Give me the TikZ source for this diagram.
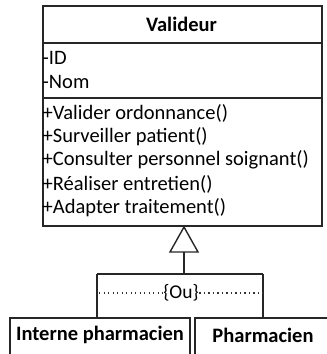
\documentclass[tikz,border=0pt]{standalone}
\usepackage{fontspec}
\setmainfont{Carlito}
\begin{document}
\begin{tikzpicture}[x=1pt,y=-1pt,
  frame/.style={draw=black!85, line width=1.5pt},
  txt/.style={inner sep=0pt, font=\fontsize{20.5}{24}\selectfont, anchor=west},
  ttl/.style={inner sep=0pt, font=\fontsize{20.5}{24}\selectfont\bfseries},
  lnk/.style={draw=black!85, line width=1.4pt},
  dots/.style={draw=black!80, line width=1.1pt, dash pattern=on 1.1pt off 3.4pt}]
\useasboundingbox (0,0) rectangle (327,354);
\clip (0,0) rectangle (327,354);
% class box
\node[frame, minimum width=279pt, minimum height=220pt, anchor=north west, inner sep=0pt] (cls) at (42,5) {};
\coordinate (d1l) at (42,43); \coordinate (d1r) at (321,43);
\coordinate (d2l) at (42,98); \coordinate (d2r) at (321,98);
\draw[frame] (d1l) -- (d1r);
\draw[frame] (d2l) -- (d2r);
\node[ttl] (title) at (181.5,24) {Valideur};
\node[txt] (a1) at (42.5,58) {-ID};
\node[txt] (a2) at (42.5,82) {-Nom};
\node[txt] (m1) at (42.5,113) {+Valider ordonnance()};
\node[txt] (m2) at (42.5,137) {+Surveiller patient()};
\node[txt] (m3) at (42.5,160) {+Consulter personnel soignant()};
\node[txt] (m4) at (42.5,184) {+Réaliser entretien()};
\node[txt] (m5) at (42.5,208) {+Adapter traitement()};
% generalisation
\coordinate (apex) at (184,227);
\coordinate (bl) at (170,252);
\coordinate (br) at (198,252);
\coordinate (base) at (184,252);
\coordinate (junc) at (184,274);
\coordinate (jl) at (97,274);
\coordinate (jr) at (263,274);
\draw[lnk, line join=miter] (apex) -- (bl) -- (br) -- cycle;
\draw[lnk] (base) -- (junc);
\draw[lnk] (jl) -- (jr);
% subclasses
\node[frame, minimum width=180pt, minimum height=37pt, anchor=north west, inner sep=0pt] (ip) at (9,317) {};
\node[frame, minimum width=140pt, minimum height=37pt, anchor=north west, inner sep=0pt] (ph) at (194,317) {};
\node[ttl] (ipt) at (100,335) {Interne pharmacien};
\node[ttl] (pht) at (263,335) {Pharmacien};
\draw[lnk] (jl) -- (jl |- ip.north);
\draw[lnk] (jr) -- (jr |- ph.north);
% constraint
\node[inner sep=0.5pt, font=\fontsize{19.5}{22}\selectfont] (ou) at (181,293) {\{Ou\}};
\coordinate (ol) at (99,293);
\coordinate (or) at (263,293);
\draw[dots] (ol) -- (ou.west);
\draw[dots] (ou.east) -- (or);
\end{tikzpicture}
\end{document}
